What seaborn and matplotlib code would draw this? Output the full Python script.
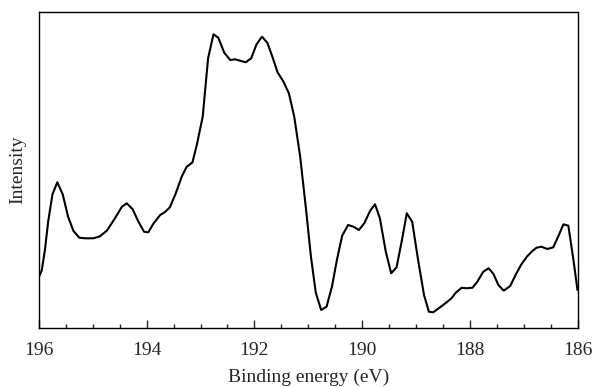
import matplotlib
matplotlib.use("Agg")
import matplotlib.pyplot as plt
import seaborn as sns
import pandas as pd
from matplotlib.ticker import MultipleLocator

binding_energy = [196.00, 195.95, 195.89, 195.83, 195.75, 195.66, 195.56, 195.46, 195.36, 195.25,
                  195.15, 194.99, 194.87, 194.74, 194.59, 194.46, 194.37, 194.26, 194.16, 194.05,
                  193.97, 193.88, 193.75, 193.66, 193.57, 193.46, 193.35, 193.26, 193.15, 193.07,
                  192.96, 192.86, 192.76, 192.67, 192.56, 192.45, 192.36, 192.16, 192.06, 191.96,
                  191.86, 191.76, 191.66, 191.57, 191.46, 191.36, 191.26, 191.15, 191.04, 190.95,
                  190.86, 190.76, 190.66, 190.56, 190.47, 190.37, 190.26, 190.16, 190.06, 189.96,
                  189.85, 189.76, 189.67, 189.56, 189.46, 189.36, 189.26, 189.17, 189.07, 188.96,
                  188.85, 188.76, 188.68, 188.55, 188.44, 188.34, 188.26, 188.15, 188.06, 187.95,
                  187.86, 187.75, 187.65, 187.56, 187.47, 187.37, 187.25, 187.15, 187.05, 186.94,
                  186.84, 186.76, 186.67, 186.56, 186.45, 186.36, 186.26, 186.17, 186.08, 186.00]

intensity = [51.3, 57.3, 78, 106.3, 133.7, 145.7, 133.7, 111.3, 97, 90.3,
             89.7, 89.7, 91.7, 97.3, 109.7, 121.3, 124.7, 118.7, 107, 96.3,
             95.7, 104, 113, 116, 120.7, 134.7, 151.3, 161, 165.7, 183,
             211.3, 269.7, 293.7, 290.3, 275.3, 268, 268.7, 265.7, 269.7, 283.7,
             291.3, 285.3, 270.3, 255.7, 246.3, 234.7, 211.3, 171.3, 118, 71.3,
             35.3, 18, 21.3, 41.3, 67.5, 92.3, 103, 101.3, 98, 104.7,
             117.3, 123.7, 109.7, 76.3, 54.7, 60.7, 88, 114.7, 106.3, 68,
             33, 16.3, 15.7, 20.8, 25.3, 29.7, 35.3, 40.3, 39.7, 40.3,
             46.3, 56.3, 59.7, 54, 43, 37.3, 42, 53, 63, 71.3,
             77, 80.3, 81.3, 79, 80.7, 91.3, 103.7, 102.3, 69.7, 38]

major_ticks = [196, 194, 192, 190, 188, 186]

df = pd.DataFrame({"Binding energy (eV)": binding_energy, "Intensity": intensity})

sns.set_style("ticks")
plt.rcParams["font.family"] = ["Liberation Serif", "DejaVu Serif"]

fig = plt.figure(figsize=(5.94, 3.87), dpi=100)
ax = fig.add_axes([39 / 594, 1 - 328 / 387, (577.5 - 39) / 594, (328 - 12) / 387])

sns.lineplot(data=df, x="Binding energy (eV)", y="Intensity", ax=ax,
             color="black", linewidth=1.5, sort=False)

ax.set_xlim(196, 186)
ax.set_ylim(0, 316)
ax.set_xticks(major_ticks)
ax.set_xticklabels([str(t) for t in major_ticks])
ax.xaxis.set_minor_locator(MultipleLocator(0.5))
ax.set_yticks([])
ax.tick_params(axis="x", which="major", direction="in", length=5.5, width=1.0,
               labelsize=14, pad=10, top=False)
ax.tick_params(axis="x", which="minor", direction="in", length=3, width=1.0, top=False)
ax.set_xlabel("Binding energy (eV)", fontsize=14, labelpad=7)
ax.set_ylabel("Intensity", fontsize=14, labelpad=9)
for s in ax.spines.values():
    s.set_visible(True)
    s.set_linewidth(1.0)
    s.set_color("black")

fig.savefig("out.png", dpi=100)
